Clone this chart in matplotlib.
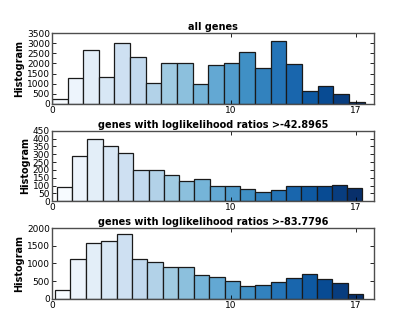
import numpy as np
import matplotlib
matplotlib.use("Agg")
import matplotlib.pyplot as plt

# bar heights, 20 bins per panel
all_genes = [230, 1270, 2650, 1320, 3000, 2300, 1030, 2020, 2000, 960,
             1920, 2000, 2580, 1780, 3120, 1950, 640, 870, 510, 110]
genes_42 = [90, 290, 400, 350, 305, 200, 200, 170, 130, 140,
            100, 100, 80, 60, 70, 95, 100, 100, 105, 85]
genes_83 = [260, 1130, 1590, 1640, 1830, 1130, 1040, 890, 910, 680,
            620, 490, 350, 400, 470, 590, 690, 570, 460, 130]

titles = ["all genes",
          "genes with loglikelihood ratios >-42.8965",
          "genes with loglikelihood ratios >-83.7796"]
bin_start = [0.0, 0.28, 0.17]
bin_width = [0.875, 0.855, 0.863]
y_max = [3500, 450, 2000]
y_step = [500, 50, 500]
x_ticks = [0, 10, 17]

fig, axes = plt.subplots(3, 1, figsize=(4.15, 3.32), dpi=100)
fig.subplots_adjust(left=0.125, right=0.9, top=0.9, bottom=0.1, hspace=0.38)

for ax, counts, title, x0, w, ym, ys in zip(axes, [all_genes, genes_42, genes_83],
                                             titles, bin_start, bin_width, y_max, y_step):
    n = len(counts)
    lefts = x0 + w * np.arange(n)
    colors = plt.cm.Blues(np.linspace(0.0, 1.0, n))
    ax.bar(lefts, counts, width=w, align="edge", color=colors,
           edgecolor="0.1", linewidth=0.9)
    ax.set_xlim(0, 18)
    ax.set_ylim(0, ym)
    ax.set_xticks(x_ticks)
    ax.set_yticks(np.arange(0, ym + 1, ys))
    ax.tick_params(direction="in", top=True, right=True, labelsize=6.5,
                   length=3, width=0.6, pad=1.5)
    ax.set_title(title, fontsize=7, fontweight="bold", pad=2)
    ax.set_ylabel("Histogram", fontsize=7, fontweight="bold", labelpad=2)
    for s in ax.spines.values():
        s.set_color("0.3")
        s.set_linewidth(1.0)

fig.savefig("out.png", dpi=100)
